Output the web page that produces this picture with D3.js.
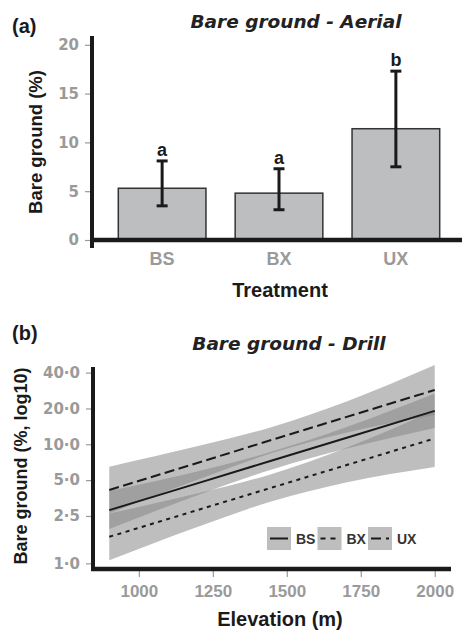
<!DOCTYPE html>
<html>
<head>
<meta charset="utf-8">
<script src="https://cdn.jsdelivr.net/npm/d3@7"></script>
<style>
  body { margin: 0; background: #fff; }
  svg { display: block; font-family: "Liberation Sans", Arial, sans-serif; }
</style>
</head>
<body>
<div id="chart"></div>
<script>
// panel (a) : bars with error bars
const treatments = ["BS", "BX", "UX"];
const bareMean = [5.3, 4.8, 11.4];
const bareLow = [3.5, 3.1, 7.5];
const bareHigh = [8.1, 7.3, 17.3];
const sigLetters = ["a", "a", "b"];
const yTicksA = [0, 5, 10, 15, 20];

// panel (b) : log-linear fits with confidence bands
const elevation = [900, 1200, 1450, 1700, 2000];
const fitBS = [2.8, 4.72, 7.31, 11.3, 19.1];
const lowBS = [1.94, 3.75, 6.15, 9.18, 13.7];
const highBS = [4.05, 5.94, 8.69, 13.9, 26.7];
const fitBX = [4.13, 7.0, 10.9, 16.9, 28.6];
const lowBX = [2.63, 5.07, 8.43, 12.5, 17.6];
const highBX = [6.49, 9.66, 14.0, 22.8, 46.3];
const fitUX = [1.67, 2.81, 4.33, 6.67, 11.2];
const lowUX = [1.06, 2.03, 3.32, 4.78, 6.46];
const highUX = [2.62, 3.87, 5.64, 9.31, 19.4];
const yTicksB = [1, 2.5, 5, 10, 20, 40];
const xTicksB = [1000, 1250, 1500, 1750, 2000];

const width = 462, height = 632;
const dark = "#1a1a1a";
const tickGrey = "#9a9a9a";
const wideFont = "DejaVu Sans, Verdana, sans-serif";

const svg = d3.select("#chart").append("svg")
  .attr("width", width)
  .attr("height", height);

// ---------- panel (a) ----------
const xA = d3.scaleBand()
  .domain(treatments)
  .range([92, 466])
  .paddingInner(0.25)
  .paddingOuter(0.225);

const yA = d3.scaleLinear()
  .domain([0, 20.9])
  .range([240, 36]);

const barData = treatments.map((t, i) => ({
  t, mean: bareMean[i], lo: bareLow[i], hi: bareHigh[i], letter: sigLetters[i]
}));

svg.append("g")
  .selectAll("rect")
  .data(barData)
  .join("rect")
  .attr("x", d => xA(d.t))
  .attr("y", d => yA(d.mean))
  .attr("width", xA.bandwidth())
  .attr("height", d => yA(0) - yA(d.mean))
  .attr("fill", "#bdbec0")
  .attr("stroke", "#333")
  .attr("stroke-width", 1.5);

// error bars
const err = svg.append("g")
  .attr("stroke", dark)
  .attr("stroke-width", 3)
  .selectAll("g")
  .data(barData)
  .join("g")
  .attr("transform", d => `translate(${xA(d.t) + xA.bandwidth() / 2},0)`);

err.append("line")
  .attr("y1", d => yA(d.lo))
  .attr("y2", d => yA(d.hi));
err.append("line")
  .attr("x1", -5.5).attr("x2", 5.5)
  .attr("y1", d => yA(d.hi)).attr("y2", d => yA(d.hi));
err.append("line")
  .attr("x1", -5.5).attr("x2", 5.5)
  .attr("y1", d => yA(d.lo)).attr("y2", d => yA(d.lo));

svg.append("g")
  .selectAll("text")
  .data(barData)
  .join("text")
  .attr("x", d => xA(d.t) + xA.bandwidth() / 2)
  .attr("y", d => yA(d.hi) - 5)
  .attr("text-anchor", "middle")
  .attr("font-size", 18)
  .attr("font-weight", "bold")
  .attr("fill", dark)
  .text(d => d.letter);

// axes (a)
const yAxisA = svg.append("g")
  .attr("transform", "translate(92,0)")
  .call(d3.axisLeft(yA).tickValues(yTicksA).tickSize(7).tickPadding(6));
yAxisA.select(".domain").remove();
yAxisA.selectAll("line").attr("stroke", tickGrey).attr("stroke-width", 1.2);
yAxisA.selectAll("text")
  .attr("fill", tickGrey)
  .attr("font-size", 15)
  .attr("font-weight", "bold")
  .attr("font-family", wideFont);

svg.append("line")
  .attr("x1", 92).attr("x2", 92)
  .attr("y1", 36).attr("y2", 248)
  .attr("stroke", dark).attr("stroke-width", 4);
svg.append("line")
  .attr("x1", 90).attr("x2", 466)
  .attr("y1", 240).attr("y2", 240)
  .attr("stroke", dark).attr("stroke-width", 4.5);

svg.append("g")
  .selectAll("text")
  .data(treatments)
  .join("text")
  .attr("x", d => xA(d) + xA.bandwidth() / 2)
  .attr("y", 265)
  .attr("text-anchor", "middle")
  .attr("font-size", 18)
  .attr("font-weight", "bold")
  .attr("fill", tickGrey)
  .text(d => d);

svg.append("text")
  .attr("x", 280).attr("y", 297)
  .attr("text-anchor", "middle")
  .attr("font-size", 20)
  .attr("font-weight", "bold")
  .attr("fill", dark)
  .text("Treatment");

svg.append("text")
  .attr("transform", "translate(42,142) rotate(-90)")
  .attr("text-anchor", "middle")
  .attr("font-size", 18.5)
  .attr("font-weight", "bold")
  .attr("fill", dark)
  .text("Bare ground (%)");

svg.append("text")
  .attr("x", 12).attr("y", 33)
  .attr("font-size", 20)
  .attr("font-weight", "bold")
  .attr("fill", dark)
  .text("(a)");

svg.append("text")
  .attr("x", 296).attr("y", 28)
  .attr("text-anchor", "middle")
  .attr("font-size", 18.5)
  .attr("font-weight", "bold")
  .attr("font-style", "italic")
  .attr("font-family", wideFont)
  .attr("fill", "#222")
  .text("Bare ground - Aerial");

// ---------- panel (b) ----------
const xB = d3.scaleLinear()
  .domain([845, 2055])
  .range([93, 451]);

const yB = d3.scaleLog()
  .domain([0.896, 44.6])
  .range([569, 367]);

const groups = [
  { key: "BS", fit: fitBS, lo: lowBS, hi: highBS, dash: null, keyDash: null },
  { key: "BX", fit: fitBX, lo: lowBX, hi: highBX, dash: "10,4.5", keyDash: "5,5" },
  { key: "UX", fit: fitUX, lo: lowUX, hi: highUX, dash: "4,4.5", keyDash: "10,5,3,5" }
];

const area = d3.area()
  .x(d => xB(d.e))
  .y0(d => yB(d.lo))
  .y1(d => yB(d.hi))
  .curve(d3.curveMonotoneX);

const line = d3.line()
  .x(d => xB(d.e))
  .y(d => yB(d.v));

const bandFill = "#878787";
const bandOpacity = 0.54;

svg.append("g")
  .selectAll("path")
  .data(groups)
  .join("path")
  .attr("d", g => area(elevation.map((e, i) => ({ e, lo: g.lo[i], hi: g.hi[i] }))))
  .attr("fill", bandFill)
  .attr("fill-opacity", bandOpacity);

svg.append("g")
  .selectAll("path")
  .data(groups)
  .join("path")
  .attr("d", g => line(elevation.map((e, i) => ({ e, v: g.fit[i] }))))
  .attr("fill", "none")
  .attr("stroke", dark)
  .attr("stroke-width", 2)
  .attr("stroke-dasharray", g => g.dash);

// axes (b)
const yAxisB = svg.append("g")
  .attr("transform", "translate(93,0)")
  .call(d3.axisLeft(yB).tickValues(yTicksB).tickSize(7).tickPadding(6)
    .tickFormat(d => d3.format(".1f")(d).replace(".", "\u00b7")));
yAxisB.select(".domain").remove();
yAxisB.selectAll("line").attr("stroke", tickGrey).attr("stroke-width", 1.2);
yAxisB.selectAll("text")
  .attr("fill", tickGrey)
  .attr("font-size", 15)
  .attr("font-weight", "bold")
  .attr("font-family", wideFont);

const xAxisB = svg.append("g")
  .attr("transform", "translate(0,569)")
  .call(d3.axisBottom(xB).tickValues(xTicksB).tickFormat(d3.format("d")).tickSize(8).tickPadding(8));
xAxisB.select(".domain").remove();
xAxisB.selectAll("line").attr("stroke", tickGrey).attr("stroke-width", 1.2);
xAxisB.selectAll("text")
  .attr("fill", tickGrey)
  .attr("font-size", 17)
  .attr("font-weight", "bold")
  .attr("font-family", "Liberation Sans, Arial, sans-serif");

svg.append("line")
  .attr("x1", 93).attr("x2", 93)
  .attr("y1", 367).attr("y2", 571)
  .attr("stroke", dark).attr("stroke-width", 4);
svg.append("line")
  .attr("x1", 91).attr("x2", 451)
  .attr("y1", 569).attr("y2", 569)
  .attr("stroke", dark).attr("stroke-width", 4.5);

svg.append("text")
  .attr("x", 280).attr("y", 626)
  .attr("text-anchor", "middle")
  .attr("font-size", 20)
  .attr("font-weight", "bold")
  .attr("fill", dark)
  .text("Elevation (m)");

svg.append("text")
  .attr("transform", "translate(27,466) rotate(-90)")
  .attr("text-anchor", "middle")
  .attr("font-size", 18)
  .attr("font-weight", "bold")
  .attr("fill", dark)
  .text("Bare ground (%, log10)");

svg.append("text")
  .attr("x", 12).attr("y", 340)
  .attr("font-size", 20)
  .attr("font-weight", "bold")
  .attr("fill", dark)
  .text("(b)");

svg.append("text")
  .attr("x", 289).attr("y", 350)
  .attr("text-anchor", "middle")
  .attr("font-size", 18.5)
  .attr("font-weight", "bold")
  .attr("font-style", "italic")
  .attr("font-family", wideFont)
  .attr("fill", "#222")
  .text("Bare ground - Drill");

// legend
const legend = svg.append("g")
  .attr("transform", "translate(267,527)")
  .selectAll("g")
  .data(groups)
  .join("g")
  .attr("transform", (d, i) => `translate(${i * 50.5},0)`);

legend.append("rect")
  .attr("width", 24).attr("height", 23)
  .attr("fill", bandFill)
  .attr("fill-opacity", bandOpacity);
legend.append("line")
  .attr("x1", 3).attr("x2", 21)
  .attr("y1", 11.5).attr("y2", 11.5)
  .attr("stroke", dark)
  .attr("stroke-width", 2)
  .attr("stroke-dasharray", d => d.keyDash);
legend.append("text")
  .attr("x", 29).attr("y", 17)
  .attr("font-size", 14)
  .attr("font-weight", "bold")
  .attr("fill", "#333")
  .text(d => d.key);
</script>
</body>
</html>
